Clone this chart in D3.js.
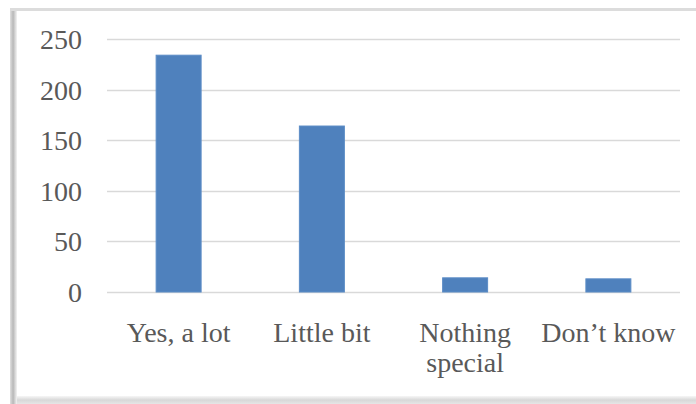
<!DOCTYPE html>
<html>
<head>
<meta charset="utf-8">
<script src="https://cdn.jsdelivr.net/npm/d3@7/dist/d3.min.js"></script>
<style>
  html, body { margin: 0; padding: 0; background: #ffffff; }
  svg { display: block; }
</style>
</head>
<body>
<script>
// Survey responses
const categories = ["Yes, a lot", "Little bit", "Nothing special", "Don\u2019t know"];
const counts = [234, 164, 14, 13];
const yTicks = [0, 50, 100, 150, 200, 250];

const width = 696, height = 404;
const margin = { top: 39, right: 16, bottom: 112, left: 107 };
const fontFamily = "'Liberation Serif', 'Times New Roman', serif";
const fontSize = 28;

const svg = d3.select("body").append("svg")
  .attr("width", width)
  .attr("height", height);

const defs = svg.append("defs");
const gLeft = defs.append("linearGradient").attr("id", "frameLeft")
  .attr("x1", "0").attr("x2", "1").attr("y1", "0").attr("y2", "0");
gLeft.append("stop").attr("offset", "0").attr("stop-color", "#e0e0e0");
gLeft.append("stop").attr("offset", "0.45").attr("stop-color", "#b8b8b8");
gLeft.append("stop").attr("offset", "1").attr("stop-color", "#f4f4f4");
const gBottom = defs.append("linearGradient").attr("id", "frameBottom")
  .attr("x1", "0").attr("x2", "0").attr("y1", "0").attr("y2", "1");
gBottom.append("stop").attr("offset", "0").attr("stop-color", "#f6f6f6");
gBottom.append("stop").attr("offset", "0.5").attr("stop-color", "#d8d8d8");
gBottom.append("stop").attr("offset", "1").attr("stop-color", "#e6e6e6");

// Bevelled frame around the chart area
svg.append("rect").attr("x", 10).attr("y", 8).attr("width", width - 10).attr("height", 3)
  .attr("fill", "#dcdcdc");
svg.append("rect").attr("x", 10).attr("y", 11).attr("width", 7).attr("height", 393)
  .attr("fill", "url(#frameLeft)");
svg.append("rect").attr("x", 17).attr("y", 396).attr("width", width - 17).attr("height", 8)
  .attr("fill", "url(#frameBottom)");

const x = d3.scaleBand()
  .domain(categories)
  .range([margin.left, width - margin.right])
  .padding(0);

const y = d3.scaleLinear()
  .domain([0, 250])
  .range([height - margin.bottom, margin.top]);

const barWidth = x.bandwidth() * 0.314;

// Horizontal gridlines
svg.append("g")
  .selectAll("line")
  .data(yTicks)
  .join("line")
  .attr("x1", margin.left)
  .attr("x2", width - margin.right)
  .attr("y1", d => Math.round(y(d)) + 0.5)
  .attr("y2", d => Math.round(y(d)) + 0.5)
  .attr("stroke", "#d9d9d9")
  .attr("stroke-width", 1.5);

// Y-axis labels
const yAxis = d3.axisLeft(y).tickValues(yTicks).tickSize(0).tickPadding(0);
const yg = svg.append("g")
  .attr("transform", `translate(${margin.left - 25},0)`)
  .call(yAxis);
yg.select(".domain").remove();
yg.selectAll("text")
  .attr("font-family", fontFamily)
  .attr("font-size", fontSize)
  .attr("fill", "#595959")
  .attr("dy", "0.34em");

// Bars
svg.append("g")
  .selectAll("rect")
  .data(categories.map((c, i) => ({ c, v: counts[i] })))
  .join("rect")
  .attr("x", d => x(d.c) + (x.bandwidth() - barWidth) / 2)
  .attr("width", barWidth)
  .attr("y", d => y(d.v))
  .attr("height", d => y(0) - y(d.v))
  .attr("fill", "#4f81bd")
  .attr("stroke", "#5b8cc6")
  .attr("stroke-width", 1);

// Category labels, two-word labels broken where the chart wraps them
const labelLines = {
  "Yes, a lot": ["Yes, a lot"],
  "Little bit": ["Little bit"],
  "Nothing special": ["Nothing", "special"],
  "Don\u2019t know": ["Don\u2019t know"]
};
const xl = svg.append("g");
categories.forEach(c => {
  const cx = x(c) + x.bandwidth() / 2;
  const t = xl.append("text")
    .attr("x", cx)
    .attr("y", 342)
    .attr("text-anchor", "middle")
    .attr("font-family", fontFamily)
    .attr("font-size", fontSize)
    .attr("fill", "#595959");
  labelLines[c].forEach((line, i) => {
    t.append("tspan")
      .attr("x", cx)
      .attr("dy", i === 0 ? 0 : 30)
      .text(line);
  });
});
</script>
</body>
</html>
